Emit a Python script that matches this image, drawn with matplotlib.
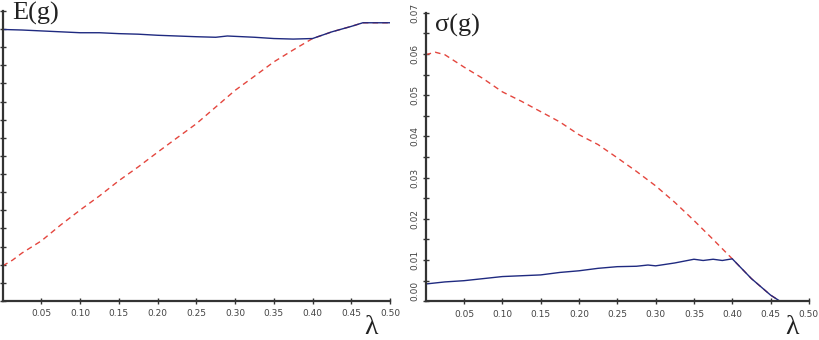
import numpy as np
import matplotlib
matplotlib.use('Agg')
from matplotlib import pyplot as plt
from matplotlib.ticker import MultipleLocator, NullFormatter

# left panel: E(g) (arbitrary units, axis unlabelled)
lam_E_blue = [0, .025, .05, .075, .10, .125, .15, .175, .20, .225, .25, .275, .29, .30,
              .325, .35, .375, .40, .425, .45, .465, .50]
E_blue = [14.98, 14.95, 14.90, 14.85, 14.80, 14.80, 14.75, 14.72, 14.66, 14.62, 14.58,
          14.55, 14.62, 14.60, 14.55, 14.48, 14.45, 14.48, 14.85, 15.15, 15.35, 15.35]
lam_E_red = [0, .0125, .025, .05, .075, .10, .125, .15, .175, .20, .225, .25, .275, .30,
             .325, .35, .375, .40, .425, .45, .465, .50]
E_red = [1.94, 2.25, 2.65, 3.32, 4.20, 5.02, 5.80, 6.64, 7.40, 8.21, 9.00, 9.78, 10.70,
         11.62, 12.40, 13.19, 13.85, 14.48, 14.85, 15.15, 15.35, 15.35]

# right panel: sigma(g)
lam_s_blue = [0, .025, .05, .075, .10, .125, .15, .175, .20, .225, .25, .275, .29, .30,
              .325, .35, .362, .375, .387, .40, .425, .45, .4625, .50]
s_blue = [.0042, .0047, .0050, .0055, .0060, .0062, .0064, .0070, .0074, .0080, .0084,
          .0085, .0088, .0086, .0093, .0102, .0099, .0102, .0099, .0103, .0055, .0015, 0, 0]
lam_s_red = [0, .0125, .025, .05, .075, .10, .125, .15, .175, .20, .225, .25, .275, .30,
             .325, .35, .375, .40, .425, .45, .4625, .50]
s_red = [.0598, .0604, .0598, .0568, .0540, .0508, .0485, .0460, .0435, .0404, .0380,
         .0348, .0315, .0280, .0240, .0196, .0150, .0103, .0055, .0015, 0, 0]

xticks = [0.05, 0.10, 0.15, 0.20, 0.25, 0.30, 0.35, 0.40, 0.45, 0.50]

blue = '#1f2a80'
red = '#e4463e'
axcol = '#333333'

fig = plt.figure(figsize=(8.2, 3.4), dpi=100)
axL = fig.add_axes([0.0033, 0.1147, 0.4723, 0.853])
axR = fig.add_axes([0.5191, 0.1138, 0.4674, 0.849])


def style(ax):
	for s in ['top', 'right']:
		ax.spines[s].set_visible(False)
	for s in ['left', 'bottom']:
		ax.spines[s].set_color(axcol)
		ax.spines[s].set_linewidth(1.6)
	ax.set_xlim(0, 0.5)
	ax.set_xticks(xticks)
	ax.set_xticklabels(['%.2f' % t for t in xticks])
	ax.tick_params(axis='both', which='both', direction='inout', color=axcol,
				   labelsize=6.5, labelcolor='#444444', width=1.0)
	ax.tick_params(axis='x', length=4, pad=4)
	ax.patch.set_alpha(0)


style(axL)
axL.plot(lam_E_red, E_red, color=red, lw=1.0, dashes=(4, 3))
axL.plot(lam_E_blue, E_blue, color=blue, lw=1.0)
axL.set_ylim(0, 16)
axL.yaxis.set_major_locator(MultipleLocator(1))
axL.yaxis.set_major_formatter(NullFormatter())
axL.tick_params(axis='y', length=5)

style(axR)
axR.plot(lam_s_red, s_red, color=red, lw=1.0, dashes=(4, 3))
axR.plot(lam_s_blue, s_blue, color=blue, lw=1.0)
axR.set_ylim(0, 0.07)
axR.yaxis.set_major_locator(MultipleLocator(0.01))
axR.yaxis.set_minor_locator(MultipleLocator(0.005))
axR.yaxis.set_major_formatter(plt.FuncFormatter(lambda v, p: '%.2f' % v))
axR.tick_params(axis='y', which='major', length=5, pad=2)
axR.tick_params(axis='y', which='minor', length=4)
fig.canvas.draw()
for lb in axR.get_yticklabels():
	lb.set_rotation(90)
	lb.set_va('center')
	if lb.get_text() == '0.00':
		lb.set_va('bottom')

serif = ['Liberation Serif', 'DejaVu Serif']
fig.text(0.0146, 0.995, 'E(g)', family=serif, fontsize=19, color='#222222', va='top', ha='left')
fig.text(0.530, 0.958, '\u03c3(g)', family=serif, fontsize=19, color='#222222', va='top', ha='left')
fig.text(0.444, 0.0, '\u03bb', family=serif, fontsize=20, color='#222222', va='bottom', ha='left')
fig.text(0.958, 0.0, '\u03bb', family=serif, fontsize=20, color='#222222', va='bottom', ha='left')

plt.savefig('out.png', dpi=100)
